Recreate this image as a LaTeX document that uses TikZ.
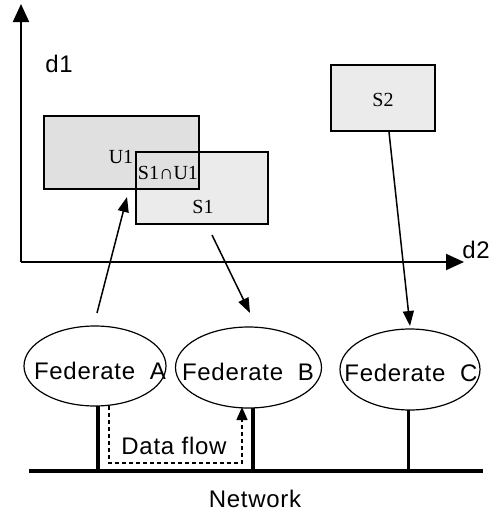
\documentclass[tikz,border=0pt]{standalone}
\usepackage{fontspec}
\usetikzlibrary{shapes.geometric,arrows.meta}
\newfontfamily\lblsans[LetterSpace=3]{Liberation Sans}
\newfontfamily\lblserif{Liberation Serif}
\definecolor{darkfill}{HTML}{E0E0E0}
\definecolor{lightfill}{HTML}{EBEBEB}
\begin{document}
\begin{tikzpicture}[x=1pt,y=-1pt,
  region/.style={draw=black, line width=1.5pt, minimum width=#1, inner sep=0pt, outer sep=0pt},
  fed/.style={draw=black, line width=1.2pt, ellipse, inner sep=0pt, outer sep=0pt},
  sanslbl/.style={font=\lblsans\fontsize{24}{26}\selectfont, inner sep=0pt},
  seriflbl/.style={font=\lblserif\fontsize{20}{22}\selectfont, inner sep=0pt},
  axis/.style={line width=2pt, -{Triangle[length=18pt,width=16pt]}},
  arr/.style={line width=1.5pt, -{Triangle[length=15pt,width=11pt]}},
  link/.style={line width=4pt},
  flow/.style={line width=1.4pt, dash pattern=on 4pt off 3pt, -{Triangle[length=13pt,width=11pt]}}]
\useasboundingbox (0,0) rectangle (497,512);

% axes
\coordinate (origin) at (21,262);
\coordinate (ytip) at (21,4);
\coordinate (xtip) at (464,262);
\draw[axis] (origin) -- (ytip);
\draw[axis] (origin) -- (xtip);
\node[sanslbl] (d1) at (59,64) {d1};
\node[sanslbl] (d2) at (476,250) {d2};

% regions
\node[region=132pt, minimum height=72pt, fill=lightfill] (s1) at (202,188) {};
\node[region=155pt, minimum height=73pt, fill=darkfill] (u1) at (121.5,152.5) {};
\draw[line width=1.5pt] (s1.north west) rectangle (s1.south east);
\node[region=104pt, minimum height=66pt, fill=lightfill] (s2) at (383,98) {};
\node[seriflbl] (u1t) at (121,157) {U1};
\node[seriflbl] (s1t) at (203,207) {S1};
\node[seriflbl] (s1u1) at (168,173) {S1∩U1};
\node[seriflbl] (s2t) at (383,100) {S2};

% federates
\node[fed, minimum width=142pt, minimum height=80pt] (fa) at (95,366) {};
\node[fed, minimum width=146pt, minimum height=81pt] (fb) at (248.5,367.5) {};
\node[fed, minimum width=140pt, minimum height=81pt] (fc) at (410,369.5) {};
\node[sanslbl] (fat) at (100,371) {Federate\ \ A};
\node[sanslbl] (fbt) at (248,372) {Federate\ \ B};
\node[sanslbl] (fct) at (411,373) {Federate\ \ C};

% interest arrows
\coordinate (a1s) at (97,313);
\coordinate (a1e) at (127,197);
\draw[arr] (a1s) -- (a1e);
\coordinate (a2s) at (212,235);
\coordinate (a2e) at (250,313);
\draw[arr] (a2s) -- (a2e);
\coordinate (a3s) at (389,132);
\coordinate (a3e) at (410,326);
\draw[arr] (a3s) -- (a3e);

% network
\coordinate (nl) at (29,471);
\coordinate (nr) at (483,471);
\draw[link] (nl) -- (nr);
\coordinate (na) at (98,471);
\coordinate (nb) at (253,471);
\coordinate (nc) at (408,471);
\draw[link] (na) -- (na |- fa.south);
\draw[link] (nb) -- (nb |- fb.south);
\draw[line width=3pt] (nc) -- (nc |- fc.south);
\node[sanslbl] (net) at (255,499) {Network};

% data flow
\coordinate (df1) at (109,406);
\coordinate (df2) at (109,463);
\coordinate (df3) at (242,463);
\coordinate (df4) at (242,407);
\draw[flow] (df1) -- (df2) -- (df3) -- (df4);
\node[sanslbl] (dft) at (174,446) {Data flow};
\end{tikzpicture}
\end{document}
